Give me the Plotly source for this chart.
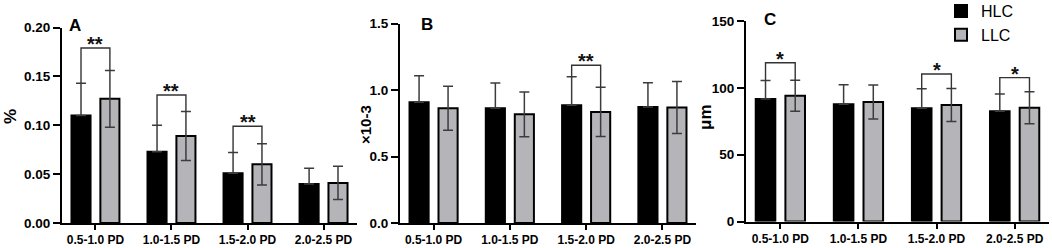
import plotly.graph_objects as go

W, H = 1052, 248

categories = ["0.5-1.0 PD", "1.0-1.5 PD", "1.5-2.0 PD", "2.0-2.5 PD"]

# Panel A (%)
A_HLC = [0.110, 0.073, 0.051, 0.040]
A_HLC_sd = [0.033, 0.027, 0.021, 0.016]
A_LLC = [0.127, 0.089, 0.060, 0.041]
A_LLC_sd = [0.029, 0.025, 0.021, 0.017]
A_sig = [(0, "**", 0.179), (1, "**", 0.131), (2, "**", 0.099)]

# Panel B (x10-3)
B_HLC = [0.907, 0.862, 0.885, 0.872]
B_HLC_sd = [0.200, 0.190, 0.215, 0.183]
B_LLC = [0.863, 0.817, 0.835, 0.868]
B_LLC_sd = [0.165, 0.168, 0.185, 0.195]
B_sig = [(2, "**", 1.186)]

# Panel C (um)
C_HLC = [91.6, 87.7, 84.7, 82.4]
C_HLC_sd = [13.9, 14.7, 14.7, 13.0]
C_LLC = [94.1, 89.4, 87.2, 85.1]
C_LLC_sd = [11.6, 12.7, 12.3, 12.0]
C_sig = [(0, "*", 118.8), (2, "*", 110.3), (3, "*", 107.6)]

FONT = "Arial, 'Liberation Sans', sans-serif"
BLACK = "#000000"
GREY = "#b4b4b9"
ERR = "#3c3c3c"

BARGAP = 0.24
HALF = (1 - BARGAP) / 4  # offset of each bar center from category center

xpos = list(range(len(categories)))

fig = go.Figure()

panels = [
    ("", A_HLC, A_HLC_sd, A_LLC, A_LLC_sd, A_sig),
    ("2", B_HLC, B_HLC_sd, B_LLC, B_LLC_sd, B_sig),
    ("3", C_HLC, C_HLC_sd, C_LLC, C_LLC_sd, C_sig),
]

shapes = []
annotations = []
for i, (sfx, hv, hsd, lv, lsd, sig) in enumerate(panels):
    show = (i == 2)
    fig.add_trace(go.Bar(
        x=xpos, y=hv, name="HLC", xaxis="x" + sfx, yaxis="y" + sfx,
        marker=dict(color=BLACK, line=dict(color=BLACK, width=2)),
        error_y=dict(type="data", array=hsd, arrayminus=[0] * len(hsd), symmetric=False,
                     color=ERR, thickness=1.5, width=5),
        showlegend=show, legendgroup="HLC",
    ))
    fig.add_trace(go.Bar(
        x=xpos, y=lv, name="LLC", xaxis="x" + sfx, yaxis="y" + sfx,
        marker=dict(color=GREY, line=dict(color=BLACK, width=2)),
        error_y=dict(type="data", array=lsd, color=ERR, thickness=1.5, width=5),
        showlegend=show, legendgroup="LLC",
    ))
    for (k, star, yb) in sig:
        x1, x2 = xpos[k] - HALF, xpos[k] + HALF
        y1, y2 = hv[k] + hsd[k], lv[k] + lsd[k]
        shapes.append(dict(
            type="path", xref="x" + sfx, yref="y" + sfx,
            path=f"M {x1},{y1} L {x1},{yb} L {x2},{yb} L {x2},{y2}",
            line=dict(color="#333333", width=1.4),
        ))
        annotations.append(dict(
            x=xpos[k], y=yb, xref="x" + sfx, yref="y" + sfx, text=star,
            showarrow=False, yanchor="bottom", yshift=-9,
            font=dict(family=FONT, size=20, color="#111", weight="bold"),
        ))


def px_x(p):
    return p / W


def px_y(p):
    return 1 - p / H


axis_common = dict(showline=True, linewidth=2, linecolor=BLACK, showgrid=False,
                   zeroline=False, ticks="outside", tickwidth=2, tickcolor=BLACK,
                   automargin=False)

xtick_font = dict(family="'Liberation Sans Narrow', 'Arial Narrow', " + FONT, size=12,
                  color=BLACK, weight="bold")
ytick_font = dict(family=FONT, size=13.5, color=BLACK, weight="bold")

xdoms = [(62, 357), (400, 696), (746, 1049)]
ydoms = [(223, 27.5), (223, 23.5), (221.5, 21)]
yranges = [[0, 0.2], [0, 1.5], [0, 150]]
ydticks = [0.05, 0.5, 50]
yfmts = [".2f", ".1f", "d"]

layout = dict(
    width=W, height=H, margin=dict(l=0, r=0, t=0, b=0, autoexpand=False),
    paper_bgcolor="white", plot_bgcolor="white",
    barmode="group", bargap=BARGAP, bargroupgap=0.34,
    font=dict(family=FONT, color=BLACK),
    showlegend=True,
    legend=dict(x=px_x(941), y=px_y(-6), xanchor="left", yanchor="top",
                font=dict(family=FONT, size=16, color=BLACK),
                tracegroupgap=0, bgcolor="rgba(0,0,0,0)", itemwidth=30),
)
for i, sfx in enumerate(["", "2", "3"]):
    xa = dict(axis_common, domain=[px_x(xdoms[i][0]), px_x(xdoms[i][1])],
              range=[-0.44, 3.44], tickvals=xpos, ticktext=categories,
              ticklen=5, tickfont=xtick_font, anchor="y" + sfx)
    ya = dict(axis_common, domain=[px_y(ydoms[i][0]), px_y(ydoms[i][1])],
              range=yranges[i], dtick=ydticks[i], tick0=0, tickformat=yfmts[i],
              ticklen=7, tickfont=ytick_font, anchor="x" + sfx)
    layout["xaxis" + sfx] = xa
    layout["yaxis" + sfx] = ya

# axis titles and panel letters
for (txt, x, y, sz) in [("%", 10, 117, 17), ("×10-3", 365, 125, 15), ("μm", 705, 117, 17)]:
    annotations.append(dict(text=txt, x=px_x(x), y=px_y(y), xref="paper", yref="paper",
                            showarrow=False, textangle=-90,
                            font=dict(family=FONT, size=sz, color=BLACK, weight="bold"),
                            xanchor="center", yanchor="middle"))
for (txt, x, y) in [("A", 75, 25), ("B", 427, 24), ("C", 770, 19)]:
    annotations.append(dict(text=txt, x=px_x(x), y=px_y(y), xref="paper", yref="paper",
                            showarrow=False, font=dict(family=FONT, size=17, color=BLACK, weight="bold"),
                            xanchor="center", yanchor="middle"))

layout["shapes"] = shapes
layout["annotations"] = annotations
fig.update_layout(**layout)

fig.write_html("out.html", config={"displayModeBar": False},
               post_script="document.body.style.margin='0';")
